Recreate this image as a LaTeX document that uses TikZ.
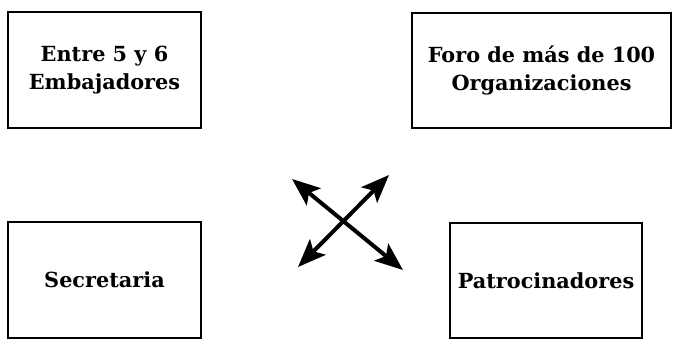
\documentclass[tikz,border=0pt]{standalone}
\usepackage{fontspec}
\setmainfont{DejaVu Serif}
\usetikzlibrary{arrows.meta}

\begin{document}
\begin{tikzpicture}[x=1pt,y=-1pt,
 caja/.style={draw,line width=1.5pt,align=center,inner sep=0pt,
   font=\fontsize{20.8}{28.5}\selectfont\bfseries},
 flecha/.style={line width=4pt,{Stealth[length=28pt,width=22pt,inset=6pt]}-{Stealth[length=28pt,width=22pt,inset=6pt]}}]
\useasboundingbox (0,0) rectangle (674,339);

% cajas
\node[caja,minimum width=193pt,minimum height=116pt] (emb) at (104.5,70)
 {Entre 5 y 6\\Embajadores};
\node[caja,minimum width=259pt,minimum height=115pt] (foro) at (541.5,70.5)
 {Foro de más de 100\\Organizaciones};
\node[caja,minimum width=193pt,minimum height=116pt] (sec) at (104.5,280)
 {Secretaria};
\node[caja,minimum width=192pt,minimum height=115pt] (pat) at (546,280.5)
 {Patrocinadores};

% flechas cruzadas
\coordinate (a1) at (292,179); \coordinate (a2) at (403,270);
\coordinate (b1) at (298,267); \coordinate (b2) at (389,175);
\draw[flecha] (a1) -- (a2);
\draw[flecha] (b1) -- (b2);

\end{tikzpicture}
\end{document}
